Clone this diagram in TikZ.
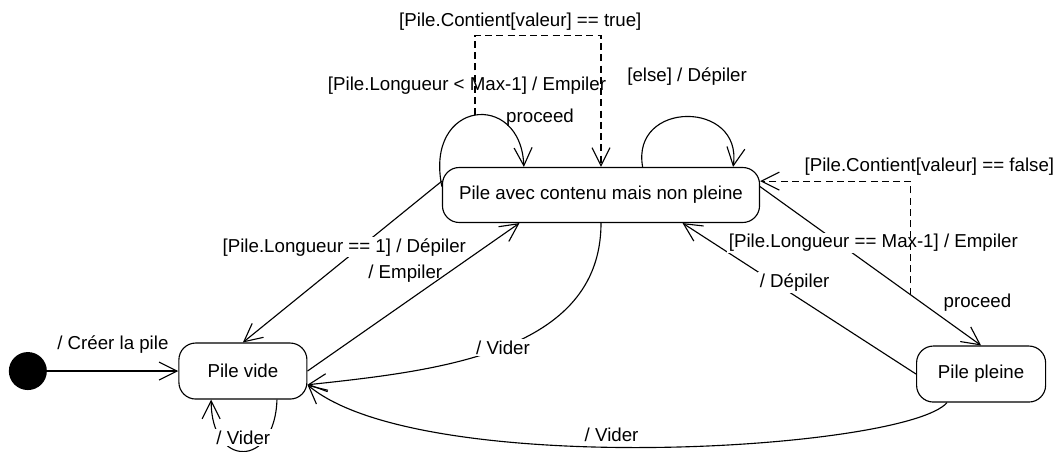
\documentclass[tikz,border=0pt]{standalone}
\usepackage{fontspec}
\setmainfont{Liberation Sans}
\usetikzlibrary{arrows.meta,positioning}

\begin{document}
\begin{tikzpicture}[x=0.025cm,y=-0.025cm,on grid,
    font=\fontsize{13.3}{16}\selectfont,line width=0.8pt,
    >={Straight Barb[length=4.5mm,width=4.5mm]},
    etat/.style={draw,rounded corners=0.42cm,minimum height=1.4cm},
    debut/.style={circle,fill=black,minimum size=0.95cm,inner sep=0pt},
    garde/.style={fill=white,inner sep=1pt},
    pointille/.style={dash pattern=on 5pt off 3pt}]
   \useasboundingbox (0,0) rectangle (1060,452);
   \node[etat,minimum width=7.925cm,minimum height=1.375cm] (contenu) at (601,195) {Pile avec contenu mais non pleine};
   \node[etat,minimum width=3.2cm] (vide) [below left=4.4cm and 8.95cm of contenu] {Pile vide};
   \node[etat,minimum width=3.225cm] (pleine) [below right=4.475cm and 9.5cm of contenu] {Pile pleine};
   \node[debut] (init) [left=5.375cm of vide] {};
   % \node[etat] (pleine2) [below=of pleine] {};
    \path[->]
    (init) edge node[yshift=0.65cm] {/ Créer la pile} (vide)
    (contenu.175) edge node[garde,pos=0.41,xshift=-0.4cm] {[Pile.Longueur == 1] / Dépiler} (vide.north)
    (vide.east) edge node[pos=0.66,left] {/ Empiler} (contenu.199)
    (pleine.west) edge node[garde,pos=0.52,yshift=0.33cm] {/ Dépiler} (contenu.341);
    \draw[->] (contenu.south) .. controls +(0,130) and +(130,-14) .. node[garde,pos=0.5] {/ Vider} (vide.348);
    \draw[->] (pleine.220) .. controls +(-42,48) and +(113,95) .. node[above,pos=0.55] {/ Vider} (vide.348);
    \draw[->] (vide.320) .. controls +(-2,69) and +(0,69) .. node[garde,pos=0.5,yshift=0.35cm] {/ Vider} (vide.222);
    \draw[->] (contenu.177) .. controls +(-18,-87) and +(-3,-77) ..
          coordinate[pos=0.5] (hautG)
          node[pos=0.5,xshift=-0.2cm,yshift=0.75cm] {[Pile.Longueur < Max-1] / Empiler}
          node[pos=0.5,xshift=1.625cm,yshift=-0.06cm] {proceed} (contenu.160);
    \draw[->] (contenu.34) .. controls +(-12,-67) and +(10,-67) .. node[pos=0.5,yshift=1cm] {[else] / Dépiler} (contenu.12.5);
    \draw[->] (contenu.3) -- node[garde,pos=0.354,xshift=0.875cm] {[Pile.Longueur == Max-1] / Empiler}
          coordinate[pos=0.68] (hautD)
          node[pos=0.73,xshift=1.4cm] {proceed} (pleine.north);
    \draw[pointille,->] (hautG) -- ++(0,-80) -| node[pos=0.18,above] {[Pile.Contient[valeur] == true]} (contenu.north);
    \draw[pointille,->] (hautD) |- node[pos=0.5,above,xshift=0.475cm] {[Pile.Contient[valeur] == false]} (contenu.5);
\end{tikzpicture}
\end{document}
